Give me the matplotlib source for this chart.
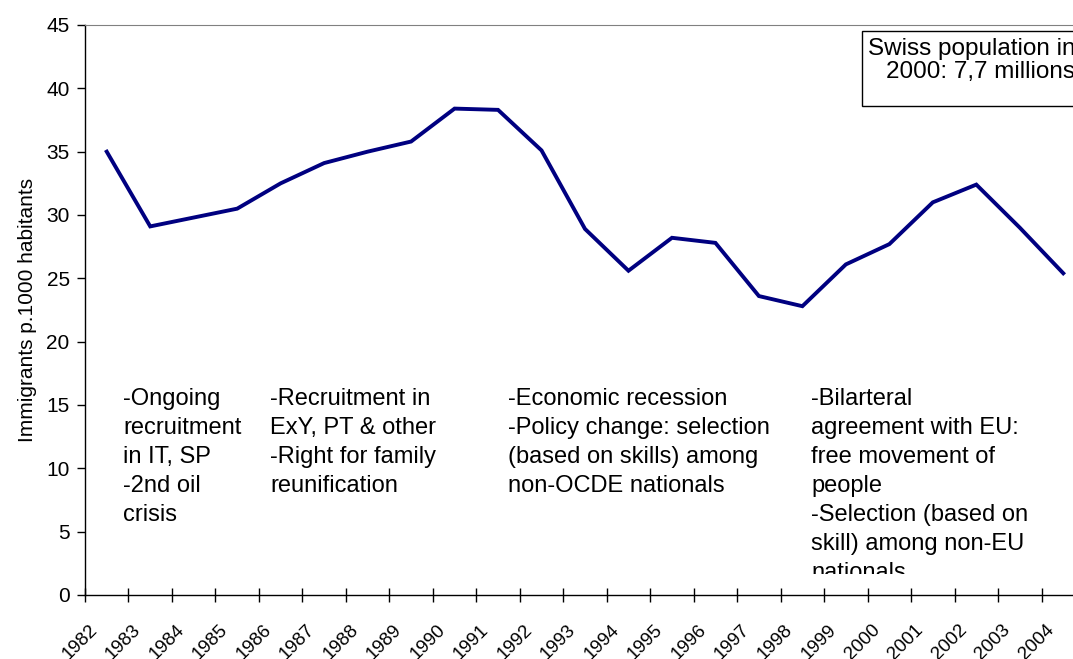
import numpy as np
import matplotlib
matplotlib.use("Agg")
import matplotlib.pyplot as plt
from matplotlib.patches import Rectangle
from matplotlib.transforms import Bbox, TransformedBbox, ScaledTranslation

plt.rcParams['font.family'] = ['Liberation Sans', 'DejaVu Sans']

years = [str(y) for y in range(1982, 2005)]
immigrants = [35.0, 29.1, 29.8, 30.5, 32.5, 34.1, 35.0, 35.8, 38.4, 38.3, 35.1, 28.9,
              25.6, 28.2, 27.8, 23.6, 22.8, 26.1, 27.7, 31.0, 32.4, 29.0, 25.4]

notes = [
    "-Ongoing\nrecruitment\nin IT, SP\n-2nd oil\ncrisis",
    "-Recruitment in\nExY, PT & other\n-Right for family\nreunification",
    "-Economic recession\n-Policy change: selection\n(based on skills) among\nnon-OCDE nationals",
    "-Bilarteral\nagreement with EU:\nfree movement of\npeople\n-Selection (based on\nskill) among non-EU\nnationals",
]
box_text = "Swiss population in\n2000: 7,7 millions"

fig = plt.figure(figsize=(10.73, 6.59), dpi=100)
# plot area runs past the right edge of the picture, like the cropped original
ax = fig.add_axes([85 / 1073, 64 / 659, 1000 / 1073, 570 / 659])

x = np.arange(len(years))
ax.plot(x, immigrants, color='#000080', linewidth=2.8, solid_joinstyle='miter')

ax.set_xlim(-0.5, len(years) - 0.5)
ax.set_ylim(0, 45)
ax.set_yticks(np.arange(0, 46, 5))

# category axis: ticks between categories, labels on the categories
ax.set_xticks(np.arange(-0.5, len(years)), [''] * (len(years) + 1))
ax.set_xticks(x, years, minor=True)
ax.tick_params(axis='x', which='major', direction='inout', length=10.5, width=1, color='black')
ax.tick_params(axis='x', which='minor', length=0, pad=19, labelsize=13.5)
ax.tick_params(axis='y', direction='out', length=5.5, width=1, pad=5.5, labelsize=15)
offset = ScaledTranslation(-13 / 72, 0, fig.dpi_scale_trans)
for lab in ax.get_xticklabels(minor=True):
    lab.set_rotation(45)
    lab.set_ha('right')
    lab.set_va('top')
    lab.set_rotation_mode('anchor')
    lab.set_transform(lab.get_transform() + offset)

ax.spines['top'].set_color('#808080')
ax.spines['right'].set_visible(False)
for s in ['left', 'bottom']:
    ax.spines[s].set_color('black')
    ax.spines[s].set_linewidth(1)

ax.set_ylabel("Immigrants p.1000 habitants", fontsize=15, labelpad=7)

note_x = [0.385, 3.76, 9.23, 16.2]
clip = TransformedBbox(Bbox([[-0.5, 1.62], [30, 50]]), ax.transData)
for nx, txt in zip(note_x, notes):
    t = ax.text(nx, 16.34, txt, fontsize=17, va='top', ha='left', linespacing=1.414)
    t.set_clip_box(clip)
    t.set_clip_on(True)

ax.add_patch(Rectangle((17.36, 38.6), 7, 5.93, facecolor='white', edgecolor='black',
                       linewidth=1, clip_on=False))
ax.text(22.28, 44.0, box_text, fontsize=17.5, ha='right', va='top', multialignment='right',
        linespacing=1.1)

fig.savefig("out.png", dpi=100)
